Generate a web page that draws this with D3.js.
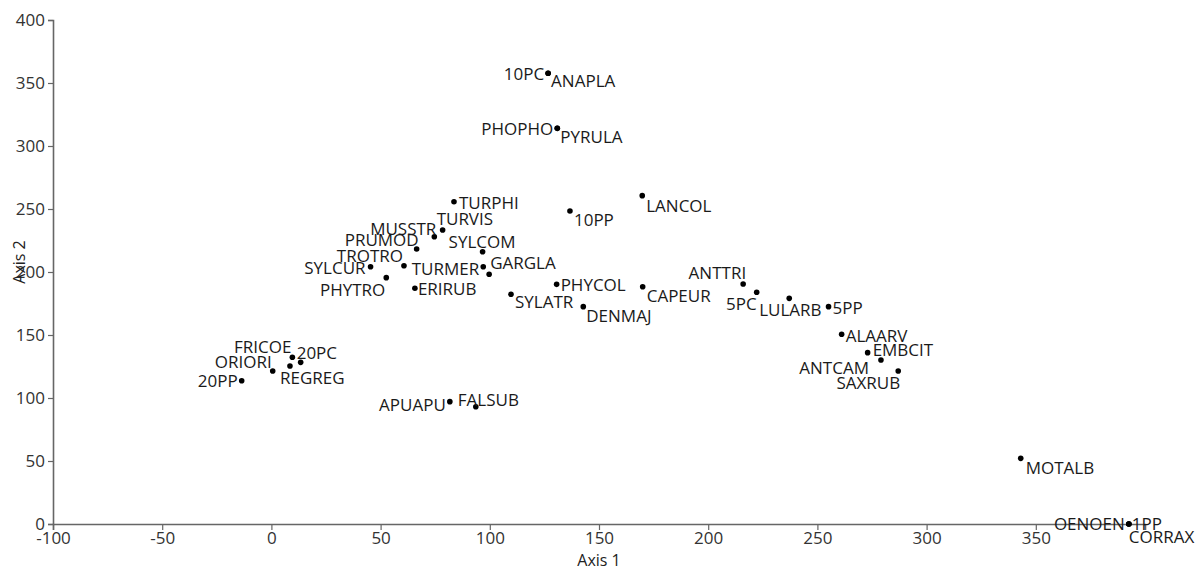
<!DOCTYPE html>
<html>
<head>
<meta charset="utf-8">
<script src="https://cdn.jsdelivr.net/npm/d3@7"></script>
<style>
  html, body { margin: 0; padding: 0; background: #fff; }
  svg { display: block; font-family: "Open Sans", "Noto Sans", sans-serif; }
</style>
</head>
<body>
<svg id="chart" width="1203" height="570"></svg>
<script>
// ---- data ----
const names = ["10PC","ANAPLA","PHOPHO","PYRULA","10PP","LANCOL","TURPHI","TURVIS","MUSSTR","PRUMOD",
  "TROTRO","SYLCUR","TURMER","GARGLA","SYLCOM","PHYTRO","ERIRUB","SYLATR","PHYCOL","DENMAJ",
  "CAPEUR","ANTTRI","5PC","LULARB","5PP","ALAARV","EMBCIT","ANTCAM","SAXRUB","MOTALB",
  "OENOEN","1PP","CORRAX","FRICOE","20PC","REGREG","ORIORI","20PP","APUAPU","FALSUB"];
const axis1 = [126.7,126.7,130.9,130.9,136.7,169.8,83.6,78.4,74.6,66.5,
  60.7,45.4,97.0,99.7,96.7,52.6,65.7,109.7,130.6,142.8,
  170.0,216.0,222.2,237.1,255.1,261.1,273.0,279.1,287.0,343.1,
  392.6,392.6,392.6,9.6,13.4,8.5,0.6,-13.6,81.7,93.6];
const axis2 = [357.7,357.7,314.0,314.0,248.4,260.6,255.8,233.3,228.0,218.3,
  205.0,204.2,204.2,198.2,216.1,195.5,187.1,182.3,190.2,172.5,
  188.3,190.5,183.9,179.1,172.5,150.6,136.0,130.2,121.4,52.1,
  0,0,0,132.3,128.3,125.4,121.4,113.7,97.1,93.1];
const xTicks = [-100,-50,0,50,100,150,200,250,300,350];
const yTicks = [0,50,100,150,200,250,300,350,400];

// ---- label placement (anchor, dx, dy in px relative to the point) ----
const labelPlacement = {
  "10PC":["end",-4,7],"ANAPLA":["start",3,14],"PHOPHO":["end",-4,7],"PYRULA":["start",3,15],
  "10PP":["start",4,15],"LANCOL":["start",4,16],"TURPHI":["start",5,7],"TURVIS":["start",-6,-5],
  "MUSSTR":["end",2,-2],"PRUMOD":["end",2,-3],"TROTRO":["end",-1,-4],"SYLCUR":["end",-5,7],
  "TURMER":["end",-4,8],"GARGLA":["start",1,-5],"SYLCOM":["start",-34,-4],"PHYTRO":["end",-1,18],
  "ERIRUB":["start",3,7],"SYLATR":["start",4,14],"PHYCOL":["start",4,7],"DENMAJ":["start",3,15],
  "CAPEUR":["start",4,15],"ANTTRI":["end",3,-5],"5PC":["end",0,18],"LULARB":["start",-30,18],
  "5PP":["start",4,7],"ALAARV":["start",4,8],"EMBCIT":["start",5,3],"ANTCAM":["end",-12,14],
  "SAXRUB":["end",2,18],"MOTALB":["start",5,16],"OENOEN":["end",-4,6],"1PP":["start",3,6],
  "CORRAX":["start",0,19],"FRICOE":["end",-1,-4],"20PC":["start",-4,-3],"REGREG":["start",-10,18],
  "ORIORI":["end",-1,-3],"20PP":["end",-4,6],"APUAPU":["end",-4,9],"FALSUB":["start",-18,-1]
};

const points = names.map((n, i) => ({ name: n, x: axis1[i], y: axis2[i] }));

// ---- layout ----
const svg = d3.select("#chart");
const x = d3.scaleLinear().domain([-100, 400]).range([53, 1145]);
const y = d3.scaleLinear().domain([0, 400]).range([524, 20]);

const axisColor = "#666";
const tickText = "#333";

const gx = svg.append("g").attr("transform", `translate(0,${y(0)})`)
  .call(d3.axisBottom(x).tickValues(xTicks).tickSize(6).tickPadding(2).tickFormat(d => String(d)));
const gy = svg.append("g").attr("transform", `translate(${x(-100)},0)`)
  .call(d3.axisLeft(y).tickValues(yTicks).tickSize(5).tickPadding(3).tickFormat(d => String(d)));

[gx, gy].forEach(g => {
  g.select(".domain").attr("stroke", axisColor).attr("stroke-width", 1.6);
  g.selectAll(".tick line").attr("stroke", axisColor).attr("stroke-width", 1.2);
  g.selectAll(".tick text").attr("fill", tickText).style("font-size", "17px")
    .style("font-family", '"Open Sans", sans-serif');
});

// axis titles
svg.append("text").attr("x", x(150)).attr("y", 566).attr("text-anchor", "middle")
  .attr("fill", "#222").style("font-size", "16px").text("Axis 1");
svg.append("text").attr("transform", `translate(25,${262}) rotate(-90)`).attr("text-anchor", "middle")
  .attr("fill", "#222").style("font-size", "16px").text("Axis 2");

// points
svg.append("g").selectAll("circle").data(points).join("circle")
  .attr("cx", d => x(d.x)).attr("cy", d => y(d.y)).attr("r", 2.8).attr("fill", "#000");

// labels
svg.append("g").selectAll("text").data(points).join("text")
  .attr("x", d => x(d.x) + labelPlacement[d.name][1])
  .attr("y", d => y(d.y) + labelPlacement[d.name][2])
  .attr("text-anchor", d => labelPlacement[d.name][0])
  .attr("fill", "#1a1a1a").style("font-size", "17px")
  .text(d => d.name);
</script>
</body>
</html>
